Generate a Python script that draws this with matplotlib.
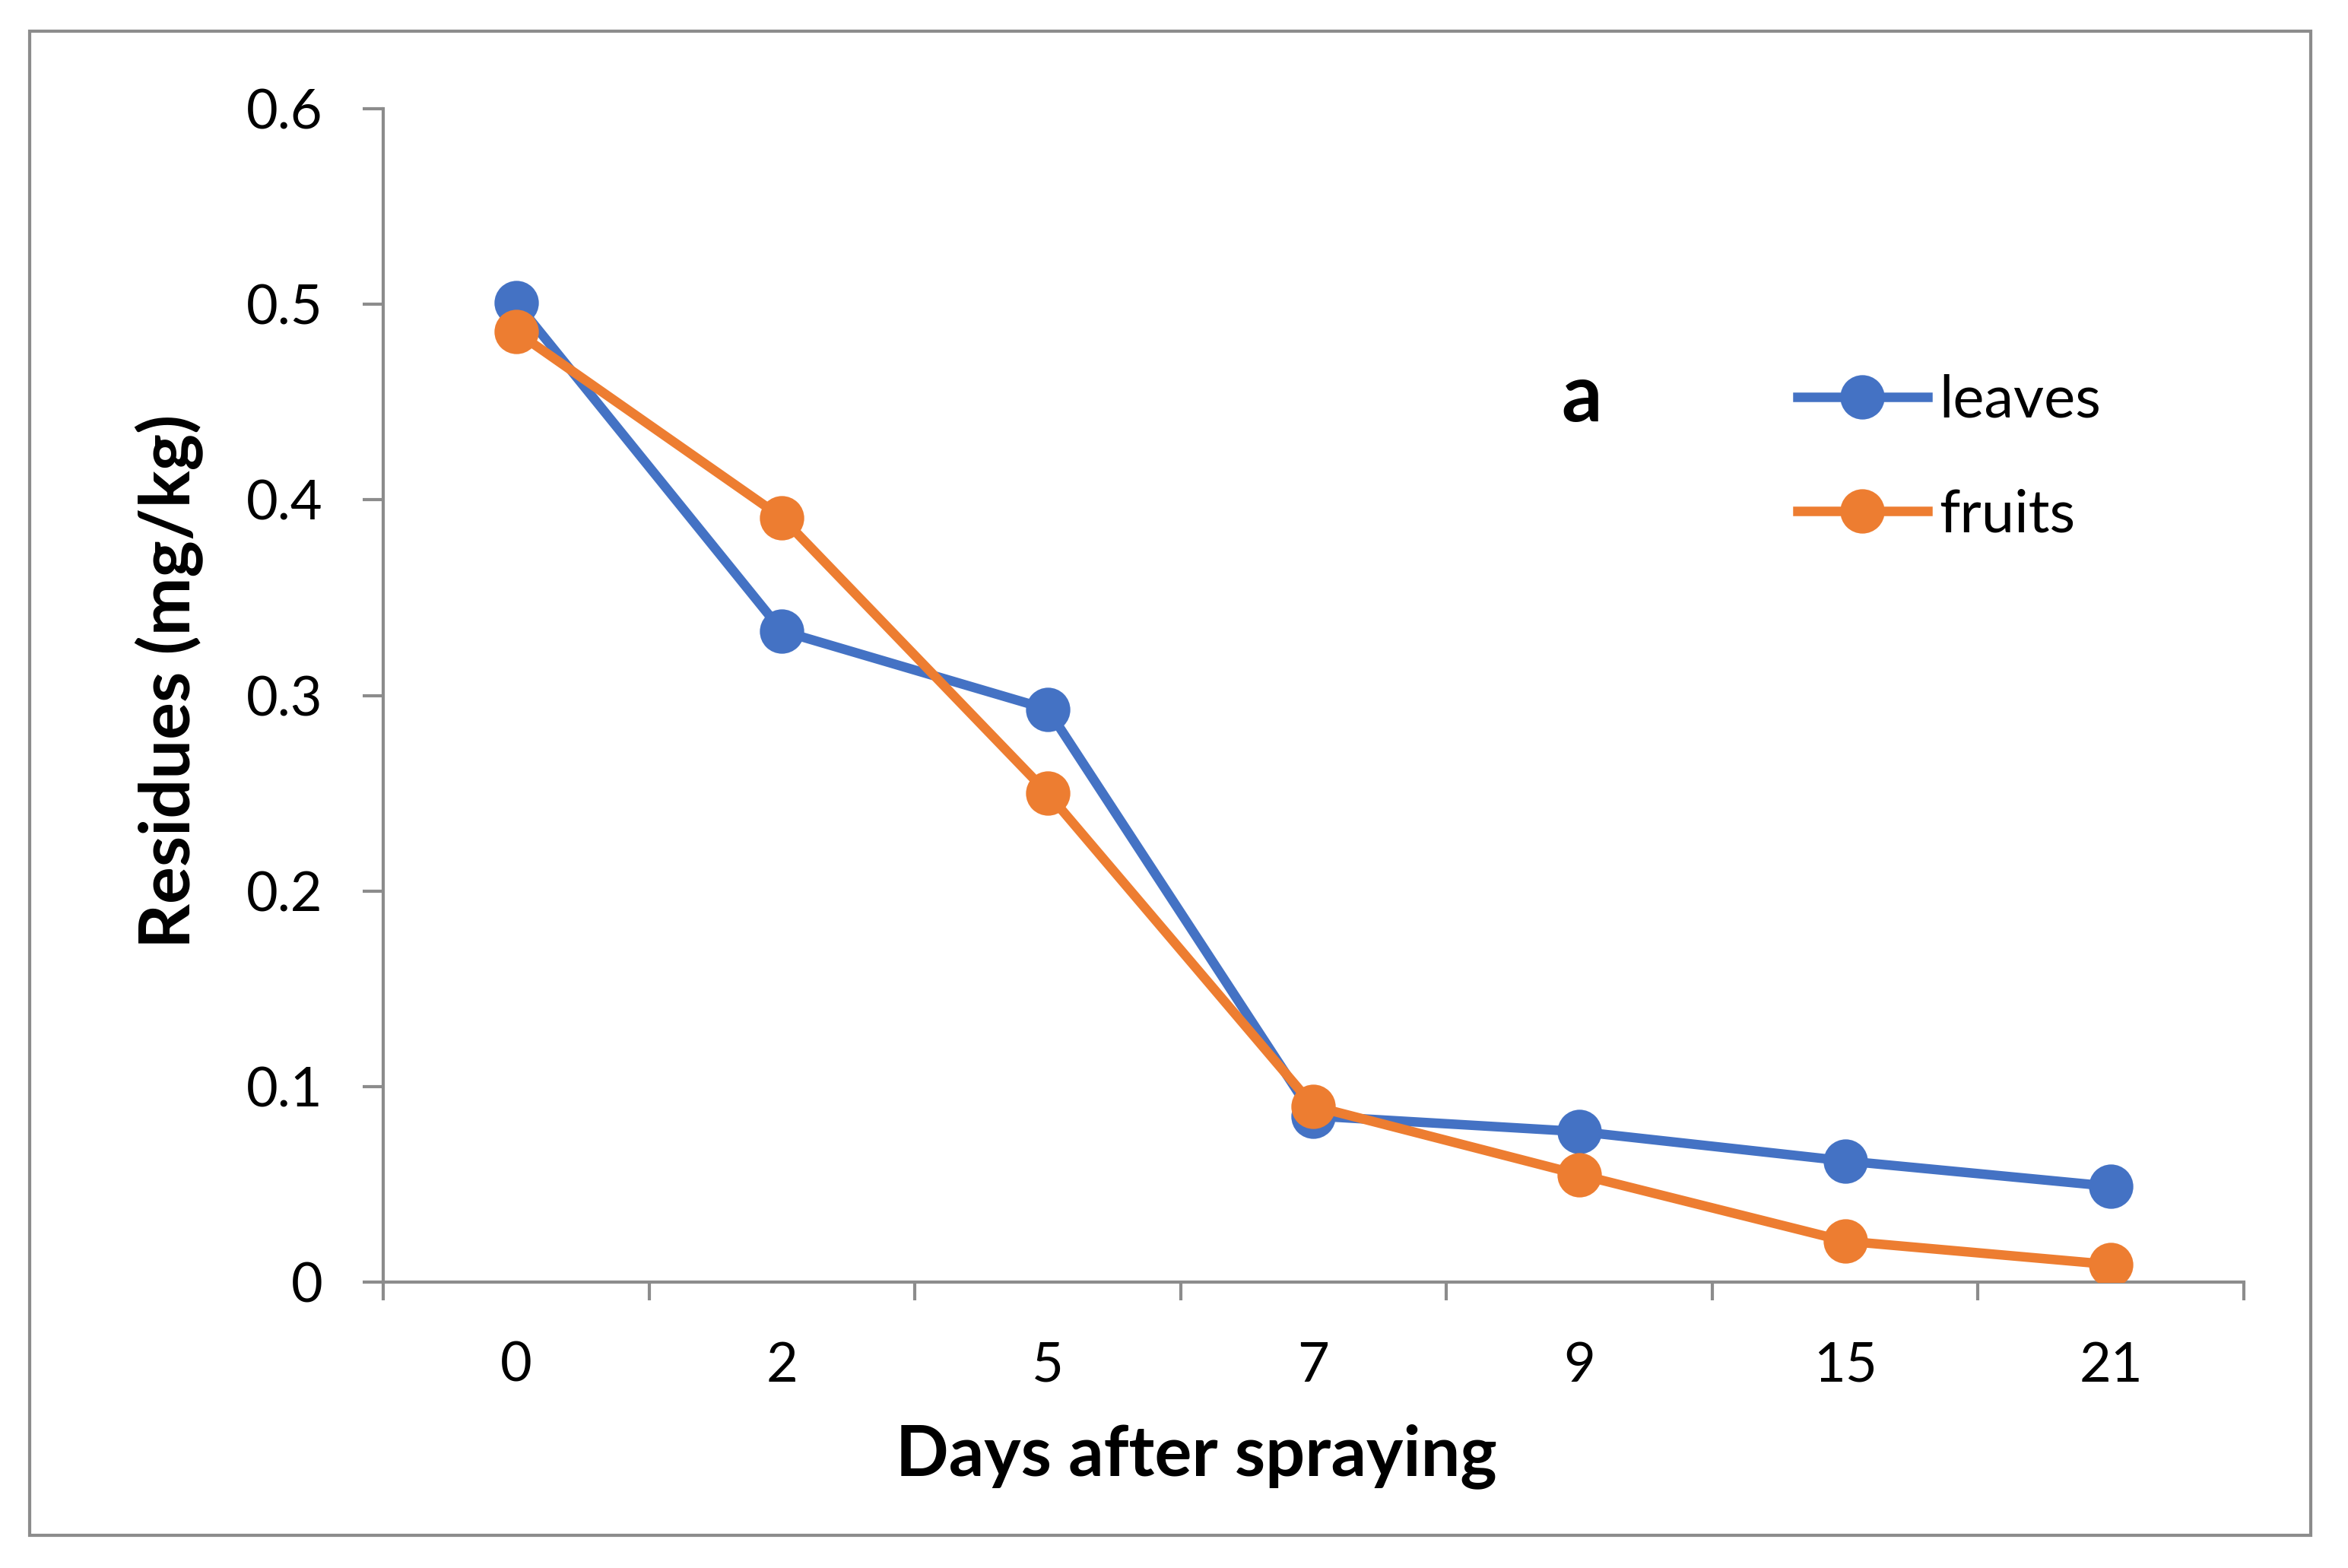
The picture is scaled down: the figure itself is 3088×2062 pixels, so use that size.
import matplotlib
matplotlib.use("Agg")
import matplotlib.pyplot as plt
from matplotlib.patches import Rectangle

# data
days = ["0", "2", "5", "7", "9", "15", "21"]
leaves = [0.501, 0.333, 0.293, 0.085, 0.077, 0.062, 0.049]
fruits = [0.486, 0.391, 0.250, 0.090, 0.055, 0.021, 0.009]
y_ticks = [0, 0.1, 0.2, 0.3, 0.4, 0.5, 0.6]
y_labels = ["0", "0.1", "0.2", "0.3", "0.4", "0.5", "0.6"]

blue = "#4472C4"
orange = "#ED7D31"
grey = "#8C8C8C"

plt.rcParams["font.family"] = ["Lato", "DejaVu Sans"]

fig = plt.figure(figsize=(15.44, 10.31), dpi=200)
ax = fig.add_axes([0.1632, 0.1823, 0.7924, 0.7483])

# outer chart frame
fig.patches.append(Rectangle((0.0126, 0.0209), 0.9715, 0.9592, transform=fig.transFigure,
                             fill=False, edgecolor=grey, linewidth=1.5))

x = list(range(len(days)))
ax.plot(x, leaves, color=blue, lw=4.5, marker="o", ms=20, label="leaves", zorder=3)
ax.plot(x, fruits, color=orange, lw=4.5, marker="o", ms=20, label="fruits", zorder=4)

ax.set_xlim(-0.5, len(days) - 0.5)
ax.set_ylim(0, 0.6)

# category axis: ticks between categories, labels at centres
ax.set_xticks([i - 0.5 for i in range(len(days) + 1)])
ax.set_xticklabels([])
ax.set_xticks(x, minor=True)
ax.set_xticklabels(days, minor=True)
ax.tick_params(axis="x", which="major", length=8.6, width=1.5, color=grey)
ax.tick_params(axis="x", which="minor", length=0, pad=28, labelsize=26)

ax.set_yticks(y_ticks)
ax.set_yticklabels(y_labels)
ax.tick_params(axis="y", length=9.7, width=1.5, color=grey, pad=19, labelsize=26)

for s in ["top", "right"]:
    ax.spines[s].set_visible(False)
for s in ["left", "bottom"]:
    ax.spines[s].set_color(grey)
    ax.spines[s].set_linewidth(1.5)

ax.set_xlabel("Days after spraying", fontsize=33, fontweight="bold")
ax.set_ylabel("Residues (mg/kg)", fontsize=33, fontweight="bold")
ax.xaxis.set_label_coords(0.437, -0.1205)
ax.yaxis.set_label_coords(-0.0964, 0.512)

ax.text(4.01, 0.452, "a", fontsize=38, fontweight="bold", ha="center", va="center")

ax.legend(loc="upper left", bbox_to_anchor=(0.760, 0.774), frameon=False,
          fontsize=28, handlelength=2.2, handletextpad=0.2, labelspacing=1.02,
          borderpad=0, borderaxespad=0)

fig.savefig("out.png", dpi=200)
